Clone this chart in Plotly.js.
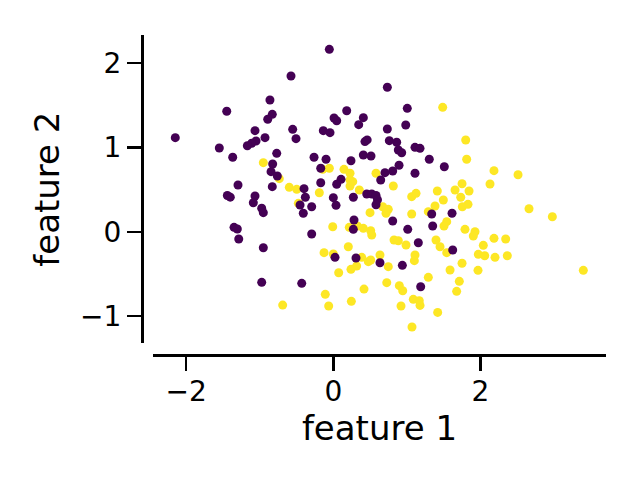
<!DOCTYPE html>
<html>
<head>
<meta charset="utf-8">
<script src="https://cdn.plot.ly/plotly-3.0.1.min.js"></script>
<style>html,body{margin:0;padding:0;background:#fff;}#chart{width:640px;height:480px;}</style>
</head>
<body>
<div id="chart"></div>
<script>
// Class 0 (purple) points
const class0X = [-0.575,-0.861,-1.448,-0.829,-0.891,-0.552,-1.064,-0.507,-0.928,-2.147,-1.050,-1.109,-1.168,-1.549,-1.367,-0.769,-0.824,-0.846,-0.761,-0.829,-0.398,-0.380,-0.452,-0.408,-0.294,-1.295,-1.44,-1.40,-1.064,-1.087,-0.973,-0.951,-1.349,-1.304,-1.285,-0.951,-0.973,-0.429,-0.054,0.734,1.005,0.182,0.010,0.046,0.408,0.345,-0.136,-0.045,0.734,0.984,0.43,0.46,0.761,0.861,1.110,1.178,-0.262,-0.099,-0.171,0.408,0.512,0.883,0.929,1.304,1.508,0.240,0.893,0.807,0.702,1.110,0.644,0.105,0.046,-0.171,0.000,0.037,0.272,0.454,0.522,0.58,0.60,0.58,0.807,0.281,0.272,-0.294,1.011,1.155,1.350,1.337,1.613,1.622,0.023,0.308,0.634,0.938,1.187];
const class0Y = [1.849,1.564,1.430,1.394,1.335,1.216,1.200,1.105,1.117,1.117,1.077,1.050,1.021,0.994,0.884,0.931,0.804,0.713,0.662,0.535,0.511,0.409,0.317,0.219,0.297,0.555,0.43,0.41,0.424,0.344,0.278,0.226,0.052,0.032,-0.087,-0.190,-0.601,-0.613,2.166,1.715,1.465,1.437,1.350,1.318,1.354,1.271,1.200,1.176,1.220,1.267,1.07,1.09,1.081,1.062,1.002,0.990,0.884,0.860,0.753,0.911,0.899,0.970,0.938,0.860,0.772,0.843,0.789,0.721,0.701,0.694,0.614,0.622,0.563,0.582,0.404,0.313,0.409,0.448,0.448,0.43,0.38,0.32,0.127,0.139,0.028,-0.027,0.028,-0.131,0.068,0.210,0.219,-0.217,-0.304,-0.312,-0.368,-0.399,-0.653];

// Class 1 (yellow) points
const class1X = [-0.951,-0.734,-0.598,-0.497,-0.475,-0.688,1.486,-0.144,-0.054,0.145,0.227,0.227,0.264,0.227,0.353,0.580,0.815,-0.190,1.065,1.124,1.413,1.495,1.654,1.382,1.291,0.671,0.747,0.716,0.499,1.065,-0.008,0.217,0.326,0.408,0.508,0.522,1.541,1.504,0.825,0.883,0.988,1.395,1.450,1.541,0.204,-0.126,0.000,1.110,1.799,1.812,2.183,2.510,2.129,1.749,1.844,1.731,1.753,1.830,2.659,2.976,1.789,1.925,1.902,2.183,2.342,2.038,1.970,2.057,2.197,2.364,1.749,1.586,1.966,3.397,1.712,1.676,0.386,0.476,0.508,0.317,0.240,0.634,0.747,1.101,1.291,0.073,0.726,0.897,0.943,0.417,-0.109,0.245,-0.063,1.087,1.168,1.178,0.920,1.418,1.069];
const class1Y = [0.820,0.630,0.527,0.503,0.337,-0.871,1.477,0.741,0.753,0.741,0.694,0.614,0.594,0.543,0.495,0.694,0.543,0.463,0.416,0.456,0.483,0.376,0.495,0.305,0.238,0.297,0.266,0.219,0.226,0.210,0.059,0.052,0.068,0.040,0.012,-0.039,0.119,0.068,-0.099,-0.107,-0.158,-0.099,-0.178,-0.249,-0.178,-0.249,-0.265,-0.277,1.089,0.860,0.725,0.677,0.566,0.570,0.483,0.409,0.297,0.325,0.273,0.178,0.028,0.000,-0.051,-0.079,-0.087,-0.162,-0.269,-0.285,-0.304,-0.285,-0.375,-0.455,-0.459,-0.459,-0.589,-0.708,-0.304,-0.356,-0.336,-0.407,-0.447,-0.277,-0.415,-0.344,-0.542,-0.487,-0.605,-0.641,-0.701,-0.681,-0.744,-0.827,-0.882,-0.803,-0.820,-0.875,-0.882,-0.958,-1.132];

const xTickVals = [-2, 0, 2];
const yTickVals = [-1, 0, 1, 2];
const xLabel = "feature 1";
const yLabel = "feature 2";

const font = "DejaVu Sans, sans-serif";
const traces = [
  {x: class1X, y: class1Y, type: "scatter", mode: "markers",
   marker: {color: "#fde725", size: 9, line: {width: 0}}, hoverinfo: "skip"},
  {x: class0X, y: class0Y, type: "scatter", mode: "markers",
   marker: {color: "#440154", size: 9, line: {width: 0}}, hoverinfo: "skip"}
];
const axisCommon = {
  showgrid: false, zeroline: false, showline: true, linecolor: "#000", linewidth: 2.6,
  ticks: "outside", ticklen: 14, tickwidth: 2.4, tickcolor: "#000",
  tickfont: {family: font, size: 28, color: "#000"}, anchor: "free", position: 0
};
const layout = {
  width: 640, height: 480, showlegend: false,
  paper_bgcolor: "#fff", plot_bgcolor: "#fff",
  margin: {l: 142, r: 34, t: 35, b: 125},
  xaxis: Object.assign({}, axisCommon, {
    domain: [0.0237, 1], range: [-2.45, 3.705], tickvals: xTickVals,
    ticklabelstandoff: -3,
    ticktext: xTickVals.map(v => v < 0 ? "\u2212" + Math.abs(v) : String(v)),
    title: {text: xLabel, font: {family: font, size: 34, color: "#000"}, standoff: 0}
  }),
  yaxis: Object.assign({}, axisCommon, {
    domain: [0.0366, 1], range: [-1.325, 2.336], tickvals: yTickVals,
    ticktext: yTickVals.map(v => v < 0 ? "\u2212" + Math.abs(v) : String(v)),
    title: {text: yLabel, font: {family: font, size: 34, color: "#000"}, standoff: 9}
  })
};
Plotly.newPlot("chart", traces, layout, {staticPlot: true, displayModeBar: false});
</script>
</body>
</html>
